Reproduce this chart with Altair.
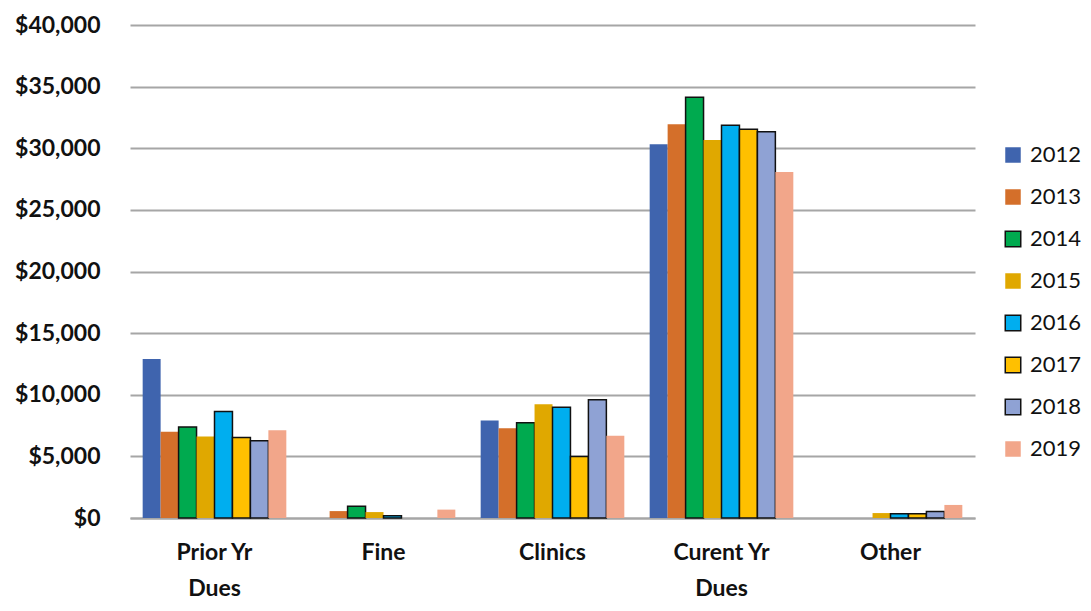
import altair as alt
import pandas as pd

categories = ["Prior Yr Dues", "Fine", "Clinics", "Curent Yr Dues", "Other"]
years = ["2012", "2013", "2014", "2015", "2016", "2017", "2018", "2019"]
values = {
    "2012": [12900, 0, 7920, 30320, 0],
    "2013": [7000, 560, 7280, 31950, 0],
    "2014": [7380, 960, 7730, 34130, 0],
    "2015": [6610, 480, 9230, 30670, 400],
    "2016": [8640, 180, 8990, 31870, 350],
    "2017": [6530, 0, 4990, 31550, 350],
    "2018": [6270, 0, 9600, 31330, 530],
    "2019": [7120, 680, 6670, 28080, 1060],
}
fill_colors = ["#3F64AE", "#D46F2A", "#00AA4F", "#E0A800", "#00AEEF", "#FFC000", "#8FA2D4", "#F2A68A"]
stroke_colors = ["transparent", "transparent", "#111111", "transparent", "#111111", "#111111", "#111111", "transparent"]

rows = []
for y in years:
    for c, v in zip(categories, values[y]):
        rows.append({"category": c, "year": y, "value": v})
df = pd.DataFrame(rows)

label_expr = "datum.value == 'Prior Yr Dues' ? ['Prior Yr', 'Dues'] : datum.value == 'Curent Yr Dues' ? ['Curent Yr', 'Dues'] : datum.value"

chart = alt.Chart(df).transform_filter("datum.value > 0").mark_bar(strokeWidth=1.5).encode(
    x=alt.X("category:N", sort=categories, title=None,
            scale=alt.Scale(domain=categories, paddingInner=0.15, paddingOuter=0.075),
            axis=alt.Axis(labelExpr=label_expr, labelAngle=0, labelFont="Lato",
                          labelFontWeight="bold", labelFontSize=23, labelColor="#111111",
                          labelPadding=23, labelLineHeight=36, ticks=False,
                          domainColor="#A6A6A6", domainWidth=2, grid=False)),
    xOffset=alt.XOffset("year:N", scale=alt.Scale(domain=years)),
    y=alt.Y("value:Q", title=None,
            scale=alt.Scale(domain=[0, 40000]),
            axis=alt.Axis(format="$,.0f", values=list(range(0, 40001, 5000)),
                          labelOverlap=False,
                          labelFont="Lato", labelFontWeight="bold", labelFontSize=23,
                          labelColor="#111111", labelPadding=30, ticks=False, domain=False,
                          gridColor="#A6A6A6", gridWidth=2)),
    fill=alt.Fill("year:N", title=None,
                  scale=alt.Scale(domain=years, range=fill_colors),
                  legend=alt.Legend(orient="none", legendX=872, legendY=119,
                                    symbolType="square", symbolSize=240, symbolStrokeWidth=1.5,
                                    labelFont="Lato", labelFontSize=22, labelColor="#111111",
                                    rowPadding=20, labelOffset=6)),
    stroke=alt.Stroke("year:N", title=None,
                      scale=alt.Scale(domain=years, range=stroke_colors)),
).properties(
    width=845, height=493,
    autosize=alt.AutoSizeParams(type="none"),
    padding={"left": 122, "top": 17, "right": 106, "bottom": 85},
).configure_view(stroke=None).configure_axis(gridCap="butt")

chart.save("out.html", embed_options={"renderer": "svg", "actions": False})
